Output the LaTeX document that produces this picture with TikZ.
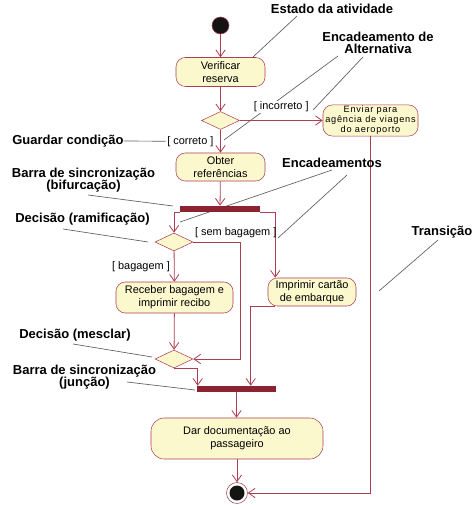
\documentclass[tikz,border=0pt]{standalone}
\usepackage{fontspec}
\setmainfont{Liberation Sans}
\usetikzlibrary{shapes.geometric, arrows.meta, positioning, calc, backgrounds}
\definecolor{flowred}{RGB}{172,62,82}
\definecolor{barred}{RGB}{139,35,50}
\definecolor{actfill}{RGB}{252,248,206}
\definecolor{notegray}{RGB}{95,95,95}

\begin{document}
\begin{tikzpicture}[
  x=0.75pt, y=-0.75pt,
  activity/.style={rectangle, draw=flowred, fill=actfill, rounded corners=7pt,
    align=center, inner sep=1pt, text=black, font=\fontsize{8.2}{10}\selectfont},
  decision/.style={diamond, draw=flowred, fill=actfill, inner sep=0pt,
    minimum width=28.5pt, minimum height=13.5pt},
  syncbar/.style={rectangle, fill=barred, inner sep=0pt, minimum height=4.5pt},
  flow/.style={-{Straight Barb[length=5pt, width=7pt]}, flowred, line width=0.6pt},
  guard/.style={font=\fontsize{8.2}{10}\selectfont, text=black, inner sep=1pt},
  callout/.style={font=\fontsize{9.75}{9.5}\selectfont\bfseries, align=center, inner sep=0pt},
  note/.style={notegray, line width=0.5pt}
]
\useasboundingbox (0,0) rectangle (474,505);

% Main column
\node[circle, fill=black!92, draw=flowred, minimum size=12.75pt, inner sep=0pt] (start) at (220.5,25.5) {};
\node[activity, minimum width=66.75pt, minimum height=21.75pt] (verif) at (220.5,72) {Verificar\\reserva};
\node[decision] (dec1) at (220.5,120.5) {};
\node[activity, minimum width=71.25pt, minimum height=21pt,
  font=\fontsize{6.9}{6}\selectfont\addfontfeatures{LetterSpace=8}] (enviar) at (370.5,120.5) {Enviar para\\agência de viagens\\do aeroporto};
\node[activity, minimum width=66.75pt, minimum height=21pt] (obter) at (220.5,167) {Obter\\referências};
\node[syncbar, minimum width=60pt] (fork) at (220,209) {};

% Branches
\node[decision] (dec2) at (174,242) {};
\node[activity, minimum width=87.75pt, minimum height=23.25pt] (receber) at (174.5,297.5) {Receber bagagem e\\imprimir recibo};
\node[activity, minimum width=66pt, minimum height=21pt] (imprimir) at (312,292) {Imprimir cartão\\de embarque};
\node[decision] (dec3) at (174,359) {};
\node[syncbar, minimum width=59.25pt] (join) at (236.5,389) {};

% End
\node[activity, minimum width=129pt, minimum height=30.75pt, rounded corners=10pt] (dar) at (237,438.5) {Dar documentação ao\\passageiro};
\node[circle, draw=flowred, fill=white, minimum size=15.75pt, inner sep=0pt] (final) at (237,493) {};
\node[circle, fill=black!92, minimum size=11.25pt, inner sep=0pt] (finaldot) at (final) {};

% Transitions
\draw[flow] (start) -- (verif);
\draw[flow] (verif) -- (dec1);
\draw[flow] (dec1.east) -- node[guard, fill=white, above=5pt] (gIncorreto) {[ incorreto ]} (enviar.west);
\draw[flow] (dec1) -- node[guard, fill=white, left=4pt] (gCorreto) {[ correto ]} (obter);
\draw[flow] (obter) -- (fork);
\draw[flow] (fork.south west) -| (dec2.north);
\coordinate (fR) at ($(fork.south east)+(15,0)$);
\draw[flow] (fork.south east) -- (fR) -- (fR |- imprimir.north);
\draw[flow] (dec2) -- node[guard, left=2pt] (gBagagem) {[ bagagem ]} (receber);
\draw[flow] (dec2.east) -- node[guard, pos=0, anchor=south west, yshift=2pt] (gSem) {[ sem bagagem ]} ++(47,0) |- (dec3.east);
\draw[flow] (receber) -- (dec3);
\draw[flow] (dec3.south) -| ([xshift=0.75pt]join.north west);
\coordinate (iL) at ($(imprimir.south west)+(7,0)$);
\coordinate (jR) at ($(iL)+(-24,0)$);
\draw[flow] (iL) -- (jR) -- (jR |- join.north);
\draw[flow] (join.south) -- (join.south |- dar.north);
\draw[flow] (dar) -- (final);
\draw[flow] (enviar.south) |- (final.east);

% Callouts
\node[callout] (cEstado) at (332,9) {Estado da atividade};
\node[callout] (cAlt) at (378,43) {Encadeamento de\\Alternativa};
\node[callout] (cGuarda) at (68,141) {Guardar condição};
\node[callout] (cEnc) at (332,163) {Encadeamentos};
\node[callout] (cFork) at (83.5,180) {Barra de sincronização\\(bifurcação)};
\node[callout] (cRamif) at (82.5,219) {Decisão (ramificação)};
\node[callout] (cTrans) at (442,232) {Transição};
\node[callout] (cMescla) at (75,335) {Decisão (mesclar)};
\node[callout] (cJoin) at (84.5,377) {Barra de sincronização\\(junção)};

\coordinate (aVerif) at (253,57);
\coordinate (aCorreto) at (224,140);
\coordinate (aIncorreto) at (313,110);
\coordinate (aLeft) at (180,222);
\coordinate (aRight) at (278,238);
\coordinate (aFork) at (173,206);
\coordinate (aDec2) at (148,242);
\coordinate (aTrans) at (379,291);
\coordinate (aDec3) at (152,357);
\coordinate (aJoin) at (195,390);

\begin{scope}[on background layer]
\draw[note] (cEstado) ++(-35,7) -- (aVerif);
\draw[note] (cAlt) ++(-40,13) -- (aCorreto);
\draw[note] (cAlt) ++(-15,14) -- (aIncorreto);
\draw[note] (cGuarda.east) -- (gCorreto.west);
\draw[note] (cEnc) ++(0,7) -- (aLeft);
\draw[note] (cEnc) ++(15,12) -- (aRight);
\draw[note] (cFork) ++(4.5,15) -- (aFork);
\draw[note] (cRamif) ++(-19.5,10) -- (aDec2);
\draw[note] (cTrans) ++(-4,8) -- (aTrans);
\draw[note] (cMescla) ++(-2,9) -- (aDec3);
\draw[note] (cJoin) ++(42.5,5) -- (aJoin);
\end{scope}
\end{tikzpicture}
\end{document}
